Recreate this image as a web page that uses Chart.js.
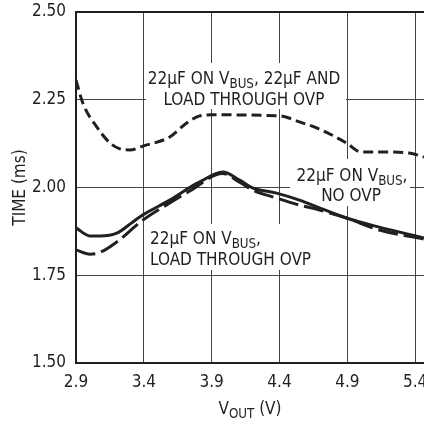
<!DOCTYPE html>
<html>
<head>
<meta charset="utf-8">
<script src="https://cdn.jsdelivr.net/npm/chart.js@4.4.1/dist/chart.umd.min.js"></script>
<style>
  html, body { margin: 0; padding: 0; background: #fff; }
  #wrap { width: 424px; height: 423px; }
</style>
</head>
<body>
<div id="wrap"><canvas id="grafico" width="424" height="423"></canvas></div>
<script>
// ticks
const xTicks = [2.9, 3.4, 3.9, 4.4, 4.9, 5.4];
const yTicks = [1.5, 1.75, 2.0, 2.25, 2.5];

// 22uF on VBUS, 22uF and load through OVP (short dash)
const xAmbosOvp = [2.9, 2.951, 3.054, 3.15, 3.224, 3.297, 3.393, 3.591, 3.716, 3.812, 3.9, 4.4, 4.547, 4.709, 4.893, 5.003, 5.172, 5.356, 5.465];
const yAmbosOvp = [2.306, 2.24, 2.172, 2.127, 2.110, 2.107, 2.118, 2.144, 2.184, 2.204, 2.207, 2.204, 2.187, 2.164, 2.127, 2.101, 2.101, 2.098, 2.087];

// 22uF on VBUS, no OVP (solid)
const xSinOvp = [2.9, 3.003, 3.076, 3.201, 3.319, 3.393, 3.591, 3.738, 3.812, 3.981, 4.106, 4.201, 4.378, 4.547, 4.694, 4.893, 5.135, 5.465];
const ySinOvp = [1.885, 1.862, 1.862, 1.870, 1.902, 1.922, 1.964, 2.0, 2.016, 2.044, 2.021, 1.999, 1.984, 1.964, 1.942, 1.913, 1.887, 1.856];

// 22uF on VBUS, load through OVP (long dash)
const xCargaOvp = [2.9, 3.003, 3.076, 3.201, 3.393, 3.591, 3.738, 3.981, 4.106, 4.201, 4.378, 4.547, 4.694, 4.893, 5.135, 5.465];
const yCargaOvp = [1.822, 1.81, 1.815, 1.845, 1.907, 1.956, 1.99, 2.04, 2.015, 1.993, 1.970, 1.95, 1.936, 1.913, 1.879, 1.853];

const FUENTE = '"Liberation Sans Narrow", "Arial Narrow", "DejaVu Sans Condensed", sans-serif';
const TAM = 17;

const puntos = (xs, ys) => xs.map((x, i) => ({ x: x, y: ys[i] }));

// texto con subindices
function textoRico(ctx, partes, x, y, align) {
    const medir = p => {
        ctx.font = (p.sub ? TAM * 0.78 : TAM) + 'px ' + FUENTE;
        return ctx.measureText(p.t).width;
    };
    const total = partes.reduce((s, p) => s + medir(p), 0);
    let cx = x;
    if (align === 'center') cx = x - total / 2;
    else if (align === 'right') cx = x - total;
    ctx.textAlign = 'left';
    ctx.textBaseline = 'alphabetic';
    partes.forEach(p => {
        const w = medir(p);
        ctx.fillText(p.t, cx, p.sub ? y + 4 : y);
        cx += w;
    });
}

const etiquetas = [
    { caja: [146, 63, 200, 46], lineas: [
        { x: 244, y: 84, align: 'center', partes: [{ t: '22µF ON V' }, { t: 'BUS', sub: true }, { t: ', 22µF AND' }] },
        { x: 244, y: 105, align: 'center', partes: [{ t: 'LOAD THROUGH OVP' }] }
    ] },
    { caja: [290, 159, 120, 47], lineas: [
        { x: 352, y: 181, align: 'center', partes: [{ t: '22µF ON V' }, { t: 'BUS', sub: true }, { t: ',' }] },
        { x: 351, y: 201, align: 'center', partes: [{ t: 'NO OVP' }] }
    ] },
    { caja: [146, 224, 166, 46], lineas: [
        { x: 150, y: 244, align: 'left', partes: [{ t: '22µF ON V' }, { t: 'BUS', sub: true }, { t: ',' }] },
        { x: 150, y: 265, align: 'left', partes: [{ t: 'LOAD THROUGH OVP' }] }
    ] }
];

const pluginEtiquetas = {
    id: 'etiquetas',
    beforeDatasetsDraw(chart) {
        const ctx = chart.ctx;
        ctx.save();
        etiquetas.forEach(e => {
            ctx.fillStyle = '#fff';
            ctx.fillRect(e.caja[0], e.caja[1], e.caja[2], e.caja[3]);
            ctx.fillStyle = '#231f20';
            e.lineas.forEach(l => textoRico(ctx, l.partes, l.x, l.y, l.align));
        });
        ctx.restore();
    },
    afterDraw(chart) {
        const ctx = chart.ctx;
        const area = chart.chartArea;
        ctx.save();
        ctx.fillStyle = '#231f20';
        // titulo eje x
        textoRico(ctx, [{ t: 'V' }, { t: 'OUT', sub: true }, { t: ' (V)' }], (area.left + area.right) / 2, 414, 'center');
        // titulo eje y
        ctx.translate(21, (area.top + area.bottom) / 2);
        ctx.rotate(-Math.PI / 2);
        ctx.font = TAM + 'px ' + FUENTE;
        ctx.textAlign = 'center';
        ctx.textBaseline = 'middle';
        ctx.fillText('TIME (ms)', 0, 0);
        ctx.restore();
    }
};

const ctx = document.getElementById('grafico').getContext('2d');
new Chart(ctx, {
    type: 'line',
    data: {
        datasets: [
            {
                label: '22µF ON VBUS, 22µF AND LOAD THROUGH OVP',
                data: puntos(xAmbosOvp, yAmbosOvp),
                borderColor: '#231f20',
                borderWidth: 3,
                borderDash: [10, 5],
                pointRadius: 0,
                cubicInterpolationMode: 'monotone',
                fill: false
            },
            {
                label: '22µF ON VBUS, NO OVP',
                data: puntos(xSinOvp, ySinOvp),
                borderColor: '#231f20',
                borderWidth: 3,
                pointRadius: 0,
                cubicInterpolationMode: 'monotone',
                fill: false
            },
            {
                label: '22µF ON VBUS, LOAD THROUGH OVP',
                data: puntos(xCargaOvp, yCargaOvp),
                borderColor: '#231f20',
                borderWidth: 3,
                borderDash: [20, 6],
                pointRadius: 0,
                cubicInterpolationMode: 'monotone',
                fill: false
            }
        ]
    },
    options: {
        responsive: false,
        animation: false,
        devicePixelRatio: 1,
        layout: { padding: { top: 12, right: 0, bottom: 0, left: 0 } },
        plugins: {
            legend: { display: false },
            title: { display: false },
            tooltip: { enabled: false }
        },
        scales: {
            x: {
                type: 'linear',
                min: 2.9,
                max: 5.465,
                afterBuildTicks: s => { s.ticks = xTicks.map(v => ({ value: v })); },
                afterFit: s => { s.height = 60; s.paddingLeft = 0; s.paddingRight = 0; },
                grid: { color: '#444', lineWidth: 1, drawTicks: false },
                border: { color: '#231f20', width: 2 },
                ticks: {
                    padding: 9,
                    color: '#231f20',
                    font: { family: FUENTE, size: TAM },
                    callback: v => v.toFixed(1)
                }
            },
            y: {
                min: 1.5,
                max: 2.5,
                afterBuildTicks: s => { s.ticks = yTicks.map(v => ({ value: v })); },
                afterFit: s => { s.width = 76; s.paddingTop = 0; s.paddingBottom = 0; },
                grid: {
                    color: ctx => ctx.tick && ctx.tick.value === 2.5 ? '#231f20' : '#444',
                    lineWidth: ctx => ctx.tick && ctx.tick.value === 2.5 ? 2 : 1,
                    drawTicks: false
                },
                border: { color: '#231f20', width: 2 },
                ticks: {
                    padding: 10,
                    color: '#231f20',
                    font: { family: FUENTE, size: TAM },
                    callback: v => v.toFixed(2)
                }
            }
        }
    },
    plugins: [pluginEtiquetas]
});
</script>
</body>
</html>
